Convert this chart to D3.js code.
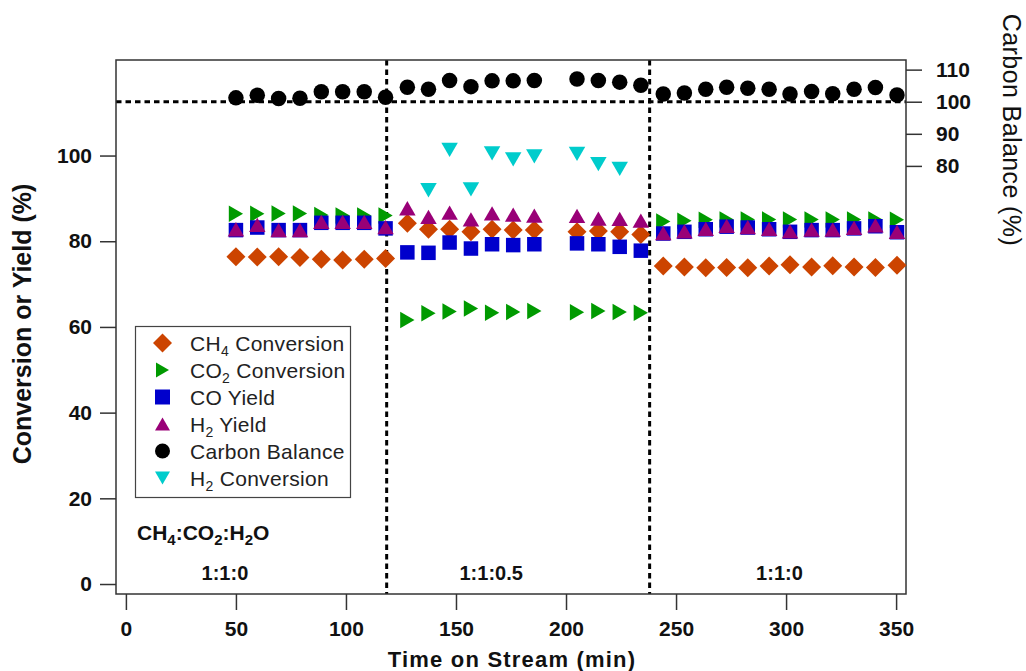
<!DOCTYPE html>
<html>
<head>
<meta charset="utf-8">
<script src="https://cdn.jsdelivr.net/npm/d3@7"></script>
<style>
body { margin: 0; background: #fff; }
svg { font-family: "Liberation Sans", Arial, sans-serif; }
</style>
</head>
<body>
<svg id="chart" width="1026" height="671"></svg>
<script>
// time on stream (min)
var timeMin = [50, 59.7, 69.4, 79.1, 88.8, 98.5, 108.3, 118,
	       127.9, 137.5, 147.1, 156.8, 166.4, 176, 185.6, 205, 214.7, 224.4, 234,
	       244.2, 253.8, 263.5, 273, 282.6, 292.3, 301.8, 311.6, 321.2, 330.9, 340.6, 350.4];

var ch4Conv = [76.4, 76.3, 76.4, 76.2, 75.8, 75.6, 75.8, 76.0,
	       84.2, 82.8, 82.8, 82.2, 82.8, 82.6, 82.6, 82.2, 82.4, 82.2, 81.6,
	       74.2, 74.0, 73.8, 73.9, 73.8, 74.2, 74.5, 74.0, 74.3, 74.0, 73.9, 74.4];
var co2Conv = [86.4, 86.4, 86.5, 86.5, 86.1, 86.0, 86.0, 86.0,
	       61.6, 63.2, 63.6, 64.3, 63.3, 63.5, 63.7, 63.4, 63.7, 63.5, 63.3,
	       84.6, 84.8, 85.0, 85.1, 85.1, 85.1, 85.1, 85.1, 85.1, 85.1, 85.1, 85.0];
var coYield = [82.6, 83.2, 82.6, 82.6, 84.3, 84.3, 84.3, 83.0,
	       77.4, 77.3, 79.7, 78.3, 79.3, 79.1, 79.3, 79.5, 79.3, 78.7, 77.8,
	       81.8, 82.2, 82.8, 83.4, 83.2, 82.8, 82.2, 82.6, 82.6, 83.0, 83.5, 82.1];
var h2Yield = [82.8, 83.8, 82.6, 82.6, 84.5, 84.5, 84.5, 83.3,
	       87.7, 85.7, 86.7, 85.1, 86.5, 86.2, 86.0, 85.9, 85.3, 85.2, 84.8,
	       81.9, 82.3, 82.9, 83.6, 83.3, 82.9, 82.3, 82.7, 82.7, 83.1, 83.7, 82.2];
var carbonBal = [101.2, 102.0, 101.0, 101.1, 103.1, 103.1, 103.1, 101.4,
		 104.5, 103.9, 106.6, 104.7, 106.5, 106.5, 106.6, 107.1, 106.6, 106.1, 105.1,
		 102.4, 102.7, 103.9, 104.5, 104.2, 103.9, 102.4, 103.2, 102.5, 103.9, 104.4, 102.1];
var h2Conv = [null, null, null, null, null, null, null, null,
	      null, 91.9, 101.3, 92.1, 100.5, 99.1, 99.8, 100.4, 98.0, 96.9, null,
	      null, null, null, null, null, null, null, null, null, null, null, null];

var xTicks = [0, 50, 100, 150, 200, 250, 300, 350];
var yTicks = [0, 20, 40, 60, 80, 100];
var cbTicks = [80, 90, 100, 110];
var feedSwitch = [118.5, 238];          // vertical dashed lines
var feedLabels = ["1:1:0", "1:1:0.5", "1:1:0"];
var feedLabelPos = [45, 166, 297];      // time where label is centred

// marker shapes, size = width in px
var symDiamond = {draw: function(c, s) { var r = s / 2;
    c.moveTo(0, -r); c.lineTo(r, 0); c.lineTo(0, r); c.lineTo(-r, 0); c.closePath(); }};
var symSquare = {draw: function(c, s) { var r = s / 2; c.rect(-r, -r, s, s); }};
var symCircle = {draw: function(c, s) { var r = s / 2; c.moveTo(r, 0); c.arc(0, 0, r, 0, 2 * Math.PI); }};
var symTriUp = {draw: function(c, s) { var h = s * 0.866 / 2, r = s / 2;
    c.moveTo(0, -h); c.lineTo(r, h); c.lineTo(-r, h); c.closePath(); }};
var symTriDown = {draw: function(c, s) { var h = s * 0.866 / 2, r = s / 2;
    c.moveTo(0, h); c.lineTo(r, -h); c.lineTo(-r, -h); c.closePath(); }};
var symTriRight = {draw: function(c, s) { var h = s * 0.866 / 2, r = s / 2;
    c.moveTo(h, 0); c.lineTo(-h, r); c.lineTo(-h, -r); c.closePath(); }};

var series = [
    {name: "CH_4 Conversion", vals: ch4Conv, col: "#cc4400", sym: symDiamond, size: 19, axis: "y"},
    {name: "CO_2 Conversion", vals: co2Conv, col: "#009a00", sym: symTriRight, size: 16.5, axis: "y"},
    {name: "CO Yield", vals: coYield, col: "#0000cc", sym: symSquare, size: 14.5, axis: "y"},
    {name: "H_2 Yield", vals: h2Yield, col: "#990077", sym: symTriUp, size: 16.5, axis: "y"},
    {name: "Carbon Balance", vals: carbonBal, col: "#000000", sym: symCircle, size: 15.5, axis: "cb"},
    {name: "H_2 Conversion", vals: h2Conv, col: "#00cccc", sym: symTriDown, size: 16.5, axis: "y"}
];

// text with _n subscripts
function richText(sel, str, subSize) {
    var parts = str.split(/_(\d)/);
    parts.forEach(function(p, i) {
	if (p === "") return;
	if (i % 2 == 1) {
	    sel.append("tspan").attr("font-size", subSize).attr("dy", 5).text(p);
	} else {
	    var t = sel.append("tspan").text(p);
	    if (i > 0) t.attr("dy", -5);
	}
    });
}

var svg = d3.select("#chart");
var x = d3.scaleLinear().domain([-4.5, 354.5]).range([116, 906]);
var y = d3.scaleLinear().domain([-2.33, 122.3]).range([594, 60]);
var cb = d3.scaleLinear().domain([-53.4, 113]).range([594, 60]);

// dashed reference lines
var dash = svg.append("g")
    .attr("stroke", "#000")
    .attr("stroke-width", 3)
    .attr("stroke-dasharray", "5.5,4");
dash.append("line")
    .attr("x1", 116).attr("x2", 906)
    .attr("y1", cb(100)).attr("y2", cb(100));
dash.selectAll(".vline")
    .data(feedSwitch)
    .enter().append("line")
    .attr("class", "vline")
    .attr("x1", d => x(d)).attr("x2", d => x(d))
    .attr("y1", 60).attr("y2", 594);

// axes
var xAxis = svg.append("g")
    .attr("transform", "translate(0,594)")
    .call(d3.axisBottom(x).tickValues(xTicks).tickSize(16).tickSizeOuter(0).tickPadding(11));
var yAxis = svg.append("g")
    .attr("transform", "translate(116,0)")
    .call(d3.axisLeft(y).tickValues(yTicks).tickSize(16).tickSizeOuter(0).tickPadding(8));
var cbAxis = svg.append("g")
    .attr("transform", "translate(906,0)")
    .call(d3.axisRight(cb).tickValues(cbTicks).tickSize(16).tickSizeOuter(0).tickPadding(14));

[xAxis, yAxis, cbAxis].forEach(function(a) {
    a.select(".domain").remove();
    a.selectAll(".tick line").attr("stroke", "#333").attr("stroke-width", 1.5);
    a.selectAll(".tick text")
	.attr("fill", "#111")
	.style("font-family", "'Liberation Sans', Arial, sans-serif")
	.style("font-size", "21px")
	.style("font-weight", "bold");
});

// frame
svg.append("rect")
    .attr("x", 116).attr("y", 60)
    .attr("width", 790).attr("height", 534)
    .attr("fill", "none")
    .attr("stroke", "#333")
    .attr("stroke-width", 1.5);

// points
series.forEach(function(s) {
    var sc = s.axis == "cb" ? cb : y;
    var pts = timeMin.map((t, i) => ({t: t, v: s.vals[i]})).filter(d => d.v != null);
    svg.append("g").selectAll("path")
	.data(pts)
	.enter().append("path")
	.attr("transform", d => "translate(" + x(d.t) + "," + sc(d.v) + ")")
	.attr("d", d3.symbol().type(s.sym).size(s.size))
	.attr("fill", s.col);
});

// legend
var leg = svg.append("g");
leg.append("rect")
    .attr("x", 135.5).attr("y", 326.5)
    .attr("width", 215).attr("height", 171)
    .attr("fill", "#fff")
    .attr("stroke", "#444")
    .attr("stroke-width", 1.2);
series.forEach(function(s, i) {
    var cy = 343 + i * 27;
    leg.append("path")
	.attr("transform", "translate(162.5," + cy + ")")
	.attr("d", d3.symbol().type(s.sym).size(s.sym === symDiamond ? 19 : 15))
	.attr("fill", s.col);
    var t = leg.append("text")
	.attr("x", 190).attr("y", cy + 7.5)
	.attr("font-size", 21)
	.attr("letter-spacing", 0.3)
	.attr("fill", "#222");
    richText(t, s.name, 14);
});

// feed ratio annotations
var ann = svg.append("text")
    .attr("x", 137).attr("y", 540)
    .attr("font-size", 21).attr("font-weight", "bold")
    .attr("fill", "#111");
richText(ann, "CH_4:CO_2:H_2O", 15);

svg.selectAll(".feed")
    .data(feedLabels)
    .enter().append("text")
    .attr("class", "feed")
    .attr("x", (d, i) => x(feedLabelPos[i]))
    .attr("y", 580)
    .attr("text-anchor", "middle")
    .attr("font-size", 20).attr("font-weight", "bold")
    .attr("fill", "#111")
    .text(d => d);

// axis titles
svg.append("text")
    .attr("x", 512).attr("y", 667)
    .attr("text-anchor", "middle")
    .attr("font-size", 22).attr("font-weight", "bold")
    .attr("letter-spacing", 1.2)
    .attr("fill", "#111")
    .text("Time on Stream (min)");
svg.append("text")
    .attr("transform", "translate(31,324) rotate(-90)")
    .attr("text-anchor", "middle")
    .attr("font-size", 25).attr("font-weight", "bold")
    .attr("fill", "#111")
    .text("Conversion or Yield (%)");
svg.append("text")
    .attr("transform", "translate(1003,130) rotate(90)")
    .attr("text-anchor", "middle")
    .attr("font-size", 25)
    .attr("letter-spacing", 0.4)
    .attr("fill", "#111")
    .text("Carbon Balance (%)");
</script>
</body>
</html>
